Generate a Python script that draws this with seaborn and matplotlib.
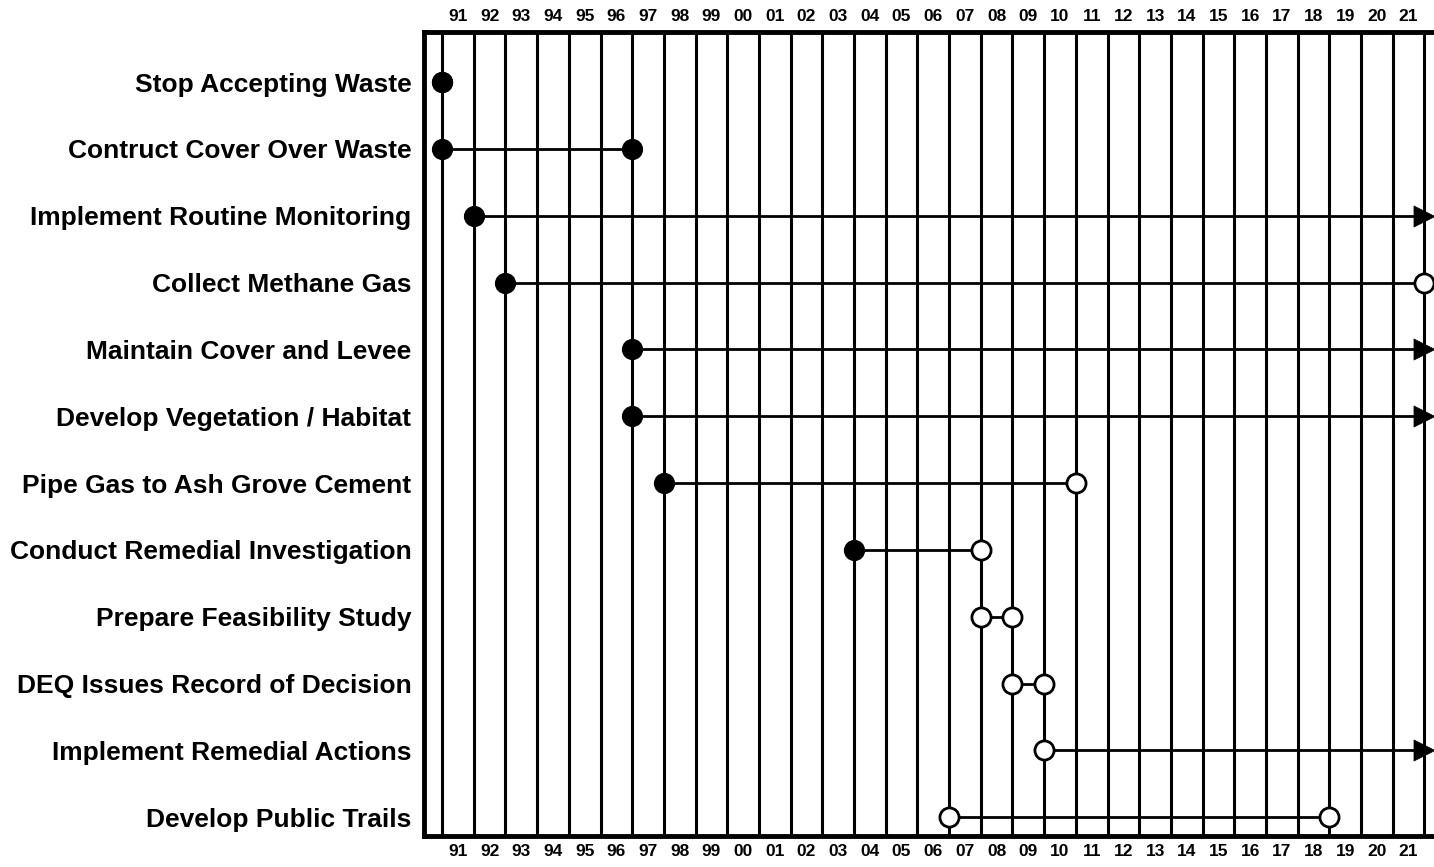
import matplotlib
matplotlib.use("Agg")
import matplotlib.pyplot as plt
import seaborn as sns
import pandas as pd

# milestones of the landfill closure (year a task begins / ends)
tasks = ["Stop Accepting Waste", "Contruct Cover Over Waste", "Implement Routine Monitoring",
         "Collect Methane Gas", "Maintain Cover and Levee", "Develop Vegetation / Habitat",
         "Pipe Gas to Ash Grove Cement", "Conduct Remedial Investigation",
         "Prepare Feasibility Study", "DEQ Issues Record of Decision",
         "Implement Remedial Actions", "Develop Public Trails"]
start = [1991, 1991, 1992, 1993, 1997, 1997, 1998, 2004, 2008, 2009, 2010, 2007]
end = [1991, 1997, 2022, 2022, 2022, 2022, 2011, 2008, 2009, 2010, 2022, 2019]
start_kind = ["done"] * 8 + ["open"] * 4
end_kind = ["done", "done", "arrow", "open", "arrow", "arrow", "open", "open",
            "open", "open", "arrow", "open"]
years = list(range(1991, 2022))
year_labels = [f"{y % 100:02d}" for y in years]

sns.set_style("white")
plt.rcParams["font.family"] = ["Liberation Sans", "DejaVu Sans"]

fig = plt.figure(figsize=(14.34, 8.67), dpi=100)
ax = fig.add_axes([424 / 1434, 1 - 836 / 867, (1452 - 424) / 1434, (836 - 32) / 867])

rows = list(range(len(tasks)))
ax.set_ylim(11.28, -0.75)
ax.set_xlim(1990.43, 2022.87)

# year boundaries
for y in years + [2022]:
    ax.axvline(y, color="black", lw=2.2, zorder=1)

# connectors
ax.hlines(rows, start, end, color="black", lw=2.0, zorder=2)

pts = pd.DataFrame({
    "x": start + end,
    "y": rows + rows,
    "kind": start_kind + end_kind,
})
done = pts[pts.kind == "done"]
opn = pts[pts.kind == "open"]
arr = pts[pts.kind == "arrow"]

sns.scatterplot(data=done, x="x", y="y", ax=ax, color="black", s=190,
                edgecolor="black", linewidth=1.5, zorder=4)
sns.scatterplot(data=opn, x="x", y="y", ax=ax, color="white", s=190,
                edgecolor="black", linewidth=2.0, zorder=4)
sns.scatterplot(data=arr, x="x", y="y", ax=ax, color="black", marker=">", s=230,
                edgecolor="black", linewidth=0.5, zorder=4)

ax.set_xlabel("")
ax.set_ylabel("")
ax.set_yticks(rows)
ax.set_yticklabels(tasks, fontsize=19, fontweight="bold", color="black")
ax.set_xticks([y + 0.5 for y in years])
ax.set_xticklabels(year_labels, fontsize=12.5, fontweight="bold", color="black")
ax.tick_params(axis="x", length=0, pad=6, top=True, labeltop=True)
ax.tick_params(axis="y", length=0, pad=9)

for side in ["left", "top", "bottom"]:
    ax.spines[side].set_linewidth(3.5)
    ax.spines[side].set_color("black")
ax.spines["right"].set_visible(False)

fig.savefig("out.png", dpi=100)
